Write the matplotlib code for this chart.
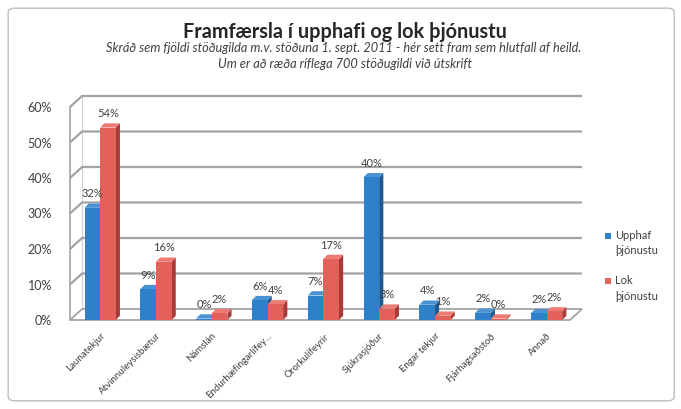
import matplotlib.pyplot as plt
from matplotlib.patches import Polygon, Rectangle, FancyBboxPatch

plt.rcParams['font.family'] = ['Lato', 'DejaVu Sans']

# ---------- data ----------
CATEGORIES = ["Launatekjur", "Atvinnuleysisbætur", "Námslán", "Endurhæfingarlífey...",
              "Örorkulífeyrir", "Sjúkrasjóður", "Engar tekjur", "Fjárhagsaðstoð", "Annað"]
UPPHAF = [31.6, 8.7, 0.4, 5.6, 6.9, 40.2, 4.3, 2.0, 1.9]
LOK = [54.2, 16.4, 1.9, 4.4, 17.2, 3.2, 1.2, 0.4, 2.4]
UPPHAF_LBL = ["32%", "9%", "0%", "6%", "7%", "40%", "4%", "2%", "2%"]
LOK_LBL = ["54%", "16%", "2%", "4%", "17%", "3%", "1%", "0%", "2%"]
YTICKS = [0, 10, 20, 30, 40, 50, 60]

TITLE = "Framfærsla í upphafi og lok þjónustu"
SUB1 = "Skráð sem fjöldi stöðugilda m.v. stöðuna 1. sept. 2011 - hér sett fram sem hlutfall af heild."
SUB2 = "Um er að ræða ríflega 700 stöðugildi við útskrift"

BLUE = ("#2E80C8", "#1D5A92", "#4A92D2")   # front, side, top
RED = ("#E4605B", "#A93B36", "#EE7A74")
GRID = "#A3A3A3"
TXT = "#404040"

fig = plt.figure(figsize=(6.81, 4.09), dpi=100)
fig.patches.append(FancyBboxPatch((0.012, 0.02), 0.978, 0.96, boxstyle="round,pad=0,rounding_size=0.01",
                                  transform=fig.transFigure, fill=False, ec="#BFBFBF", lw=1))

ax = fig.add_axes([70/681, 89/409, 500/681, 213/409])
X0, X1 = -0.54, 8.42
ax.set_xlim(X0, X1)
ax.set_ylim(0, 60)
for s in ax.spines.values():
    s.set_visible(False)
ax.set_xticks([])
ax.set_yticks(YTICKS)
ax.set_yticklabels([f"{v}%" for v in YTICKS], color=TXT, fontsize=9)
ax.tick_params(axis="y", length=0, pad=13)

# back wall / floor offsets (data units)
dxw, dyw = 0.215, 3.1
# bar depth
dxb, dyb = 0.075, 1.2

# floor
ax.add_patch(Polygon([(X0, 0), (X1, 0), (X1 + dxw, dyw), (X0 + dxw, dyw)], closed=True,
                     fc="white", ec=GRID, lw=1.3, clip_on=False, zorder=1))
for v in YTICKS[1:]:
    ax.plot([X0, X0 + dxw, X1 + dxw], [v, v + dyw, v + dyw], color=GRID, lw=1.6,
            clip_on=False, zorder=1, solid_capstyle="butt")
ax.plot([X0, X0], [0, 60], color=GRID, lw=1.2, clip_on=False, zorder=1)
ax.plot([X0 + dxw, X0 + dxw], [dyw, 60 + dyw], color="#D0D0D0", lw=0.8, clip_on=False, zorder=0.5)

w = 0.28


def bar3d(x, h, cols):
    ax.add_patch(Polygon([(x + w, 0), (x + w + dxb, dyb), (x + w + dxb, h + dyb), (x + w, h)],
                         closed=True, fc=cols[1], ec="none", clip_on=False, zorder=3))
    ax.add_patch(Polygon([(x, h), (x + w, h), (x + w + dxb, h + dyb), (x + dxb, h + dyb)],
                         closed=True, fc=cols[2], ec="none", clip_on=False, zorder=3))
    ax.add_patch(Rectangle((x, 0), w, h, fc=cols[0], ec="none", clip_on=False, zorder=3))


for i, (u, l) in enumerate(zip(UPPHAF, LOK)):
    bar3d(i - w, u, BLUE)
    bar3d(i, l, RED)
    ax.annotate(UPPHAF_LBL[i], (i - w / 2, u + dyb), xytext=(0, 3), textcoords="offset points",
                ha="center", va="bottom", fontsize=8, color=TXT, zorder=5)
    ax.annotate(LOK_LBL[i], (i + w / 2, l + dyb), xytext=(0, 3), textcoords="offset points",
                ha="center", va="bottom", fontsize=8, color=TXT, zorder=5)
    ax.annotate(CATEGORIES[i], (i, 0), xytext=(0, -8), textcoords="offset points",
                ha="right", va="top", rotation=45, rotation_mode="anchor",
                fontsize=7, color=TXT)

# titles
fig.text(345/681, 1 - 32/409, TITLE, ha="center", va="center", fontsize=14.3,
         fontweight="bold", color="#262626")
fig.text(344/681, 1 - 48/409, SUB1, ha="center", va="center", fontsize=9.2,
         style="italic", color="#404040")
fig.text(345/681, 1 - 64/409, SUB2, ha="center", va="center", fontsize=9.2,
         style="italic", color="#404040")

# legend
for yy, col, lbl in [(236, BLUE[0], "Upphaf\nþjónustu"), (281, RED[0], "Lok\nþjónustu")]:
    fig.patches.append(Rectangle((605/681, 1 - (yy + 3)/409), 6/681, 6/409,
                                 transform=fig.transFigure, fc=col, ec="none"))
    fig.text(615/681, 1 - (yy - 6)/409, lbl, ha="left", va="top", fontsize=8,
             color=TXT, linespacing=1.5)

fig.savefig("out.png", dpi=100)
